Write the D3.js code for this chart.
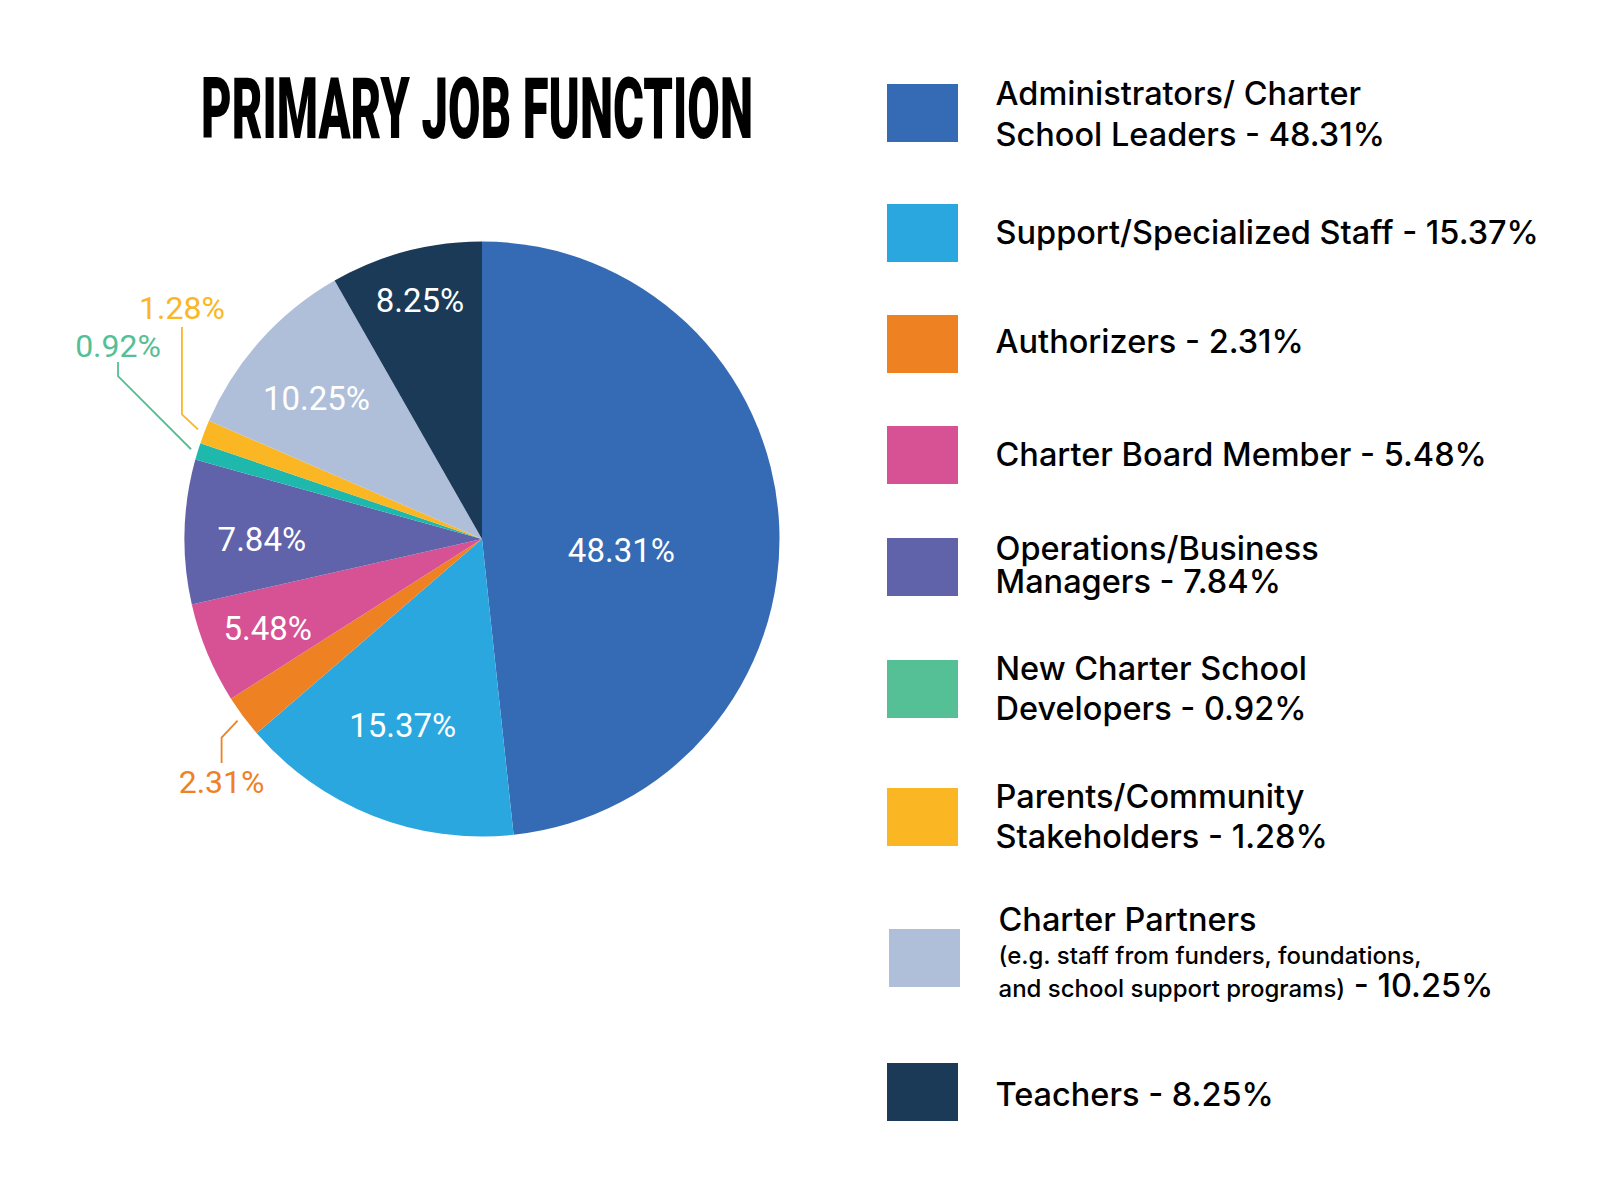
<!DOCTYPE html>
<meta charset="utf-8">
<style>
  body { margin: 0; background: #fff; }
</style>
<svg width="1598" height="1180"></svg>
<script src="https://d3js.org/d3.v7.min.js"></script>
<script>

  // data
  var categories = ["Administrators", "Support", "Authorizers", "Board", "Operations",
                    "NewCharter", "Parents", "Partners", "Teachers"];
  var values = [48.31, 15.37, 2.31, 5.48, 7.84, 0.92, 1.28, 10.25, 8.25];
  var legendLines = [
    ["Administrators/ Charter", "School Leaders - 48.31%"],
    ["Support/Specialized Staff - 15.37%"],
    ["Authorizers - 2.31%"],
    ["Charter Board Member - 5.48%"],
    ["Operations/Business", "Managers - 7.84%"],
    ["New Charter School", "Developers - 0.92%"],
    ["Parents/Community", "Stakeholders - 1.28%"],
    ["Charter Partners", "(e.g. staff from funders, foundations,", "and school support programs)"],
    ["Teachers - 8.25%"]
  ];
  var partnersTail = " - 10.25%";
  var title = "PRIMARY JOB FUNCTION";

  var swatchColor = ["#356bb4", "#2ba7e0", "#ee8223", "#d75195", "#6163aa",
                     "#55bf95", "#fbb624", "#afbfda", "#1b3a57"];
  var sliceColor = swatchColor.slice();
  sliceColor[5] = "#1eb8ad";

  var svg = d3.select("svg");

  // title
  svg.append("text")
      .attr("x", 201).attr("y", 138)
      .attr("font-family", "Roboto")
      .attr("font-weight", 900)
      .attr("font-size", 86)
      .attr("textLength", 552)
      .attr("lengthAdjust", "spacingAndGlyphs")
      .attr("fill", "#000")
      .text(title);

  // pie
  var cx = 482, cy = 539, R = 297.5;
  var pie = d3.pie().sort(null).value(function(d) { return d; });
  var arcs = pie(values);
  var arc = d3.arc().innerRadius(0).outerRadius(R);

  var g = svg.append("g").attr("transform", "translate(" + cx + "," + cy + ")");

  g.selectAll("path.slice")
    .data(arcs)
    .enter().append("path")
      .attr("class", "slice")
      .attr("d", arc)
      .attr("fill", function(d, i) { return sliceColor[i]; });

  function fmt(v) { return v.toFixed(2) + "%"; }
  function polar(a, r) { return [Math.sin(a) * r, -Math.cos(a) * r]; }

  // labels inside the slices: radius as share of R, small angle nudge in degrees
  var inside = {
    Administrators: {r: 0.47, da: 7.5},
    Support: {r: 0.68, da: 1.5},
    Board: {r: 0.78, da: 0},
    Operations: {r: 0.74, da: -1.4},
    Partners: {r: 0.73, da: -1.5},
    Teachers: {r: 0.83, da: 0.3}
  };

  // labels outside with leader lines: elbow offset from the start, end of the vertical run
  var outside = {
    Authorizers: {dx: -16, dy: 17, endY: 224, textY: 254},
    NewCharter: {dx: -73, dy: -73, endY: -177, textY: -182},
    Parents: {dx: -16, dy: -15, endY: -212, textY: -220}
  };

  arcs.forEach(function(d, i) {
    var name = categories[i];
    var mid = (d.startAngle + d.endAngle) / 2;
    if (inside[name]) {
      var o = inside[name];
      var p = polar(mid + o.da * Math.PI / 180, R * o.r);
      g.append("text")
          .attr("x", p[0]).attr("y", p[1])
          .attr("dy", "0.36em")
          .attr("text-anchor", "middle")
          .attr("font-family", "Roboto")
          .attr("font-size", 33)
          .attr("fill", "#fff")
          .text(fmt(values[i]));
    } else if (outside[name]) {
      var q = outside[name];
      var s = polar(mid, R + 7);
      var e = [s[0] + q.dx, s[1] + q.dy];
      g.append("path")
          .attr("d", d3.line()([s, e, [e[0], q.endY]]))
          .attr("fill", "none")
          .attr("stroke", swatchColor[i])
          .attr("stroke-width", 1.8);
      g.append("text")
          .attr("x", e[0]).attr("y", q.textY)
          .attr("text-anchor", "middle")
          .attr("font-family", "Roboto")
          .attr("font-size", 32)
          .attr("fill", swatchColor[i])
          .text(fmt(values[i]));
    }
  });

  // legend
  var swatchTop = [84, 204, 315, 426, 538, 660, 788, 929, 1063];
  var baselines = [
    [105, 145.5], [243.5], [352.7], [465.7], [560, 593], [680, 719.5], [808, 848],
    [931, 963.5, 996.5], [1105.5]
  ];

  var legend = svg.append("g").attr("font-family", "Inter").attr("fill", "#000");

  categories.forEach(function(c, i) {
    var partners = c === "Partners";
    legend.append("rect")
        .attr("x", partners ? 889 : 887)
        .attr("y", swatchTop[i])
        .attr("width", 71)
        .attr("height", 58)
        .attr("fill", swatchColor[i]);

    legendLines[i].forEach(function(line, j) {
      var t = legend.append("text")
          .attr("x", partners ? 998.5 : 995.5)
          .attr("y", baselines[i][j])
          .attr("font-size", partners && j > 0 ? 24 : 32.5)
          .attr("font-weight", 500);
      t.append("tspan").text(line);
      if (partners && j === 2) {
        t.append("tspan").attr("font-size", 32.5).text(partnersTail);
      }
    });
  });

</script>
